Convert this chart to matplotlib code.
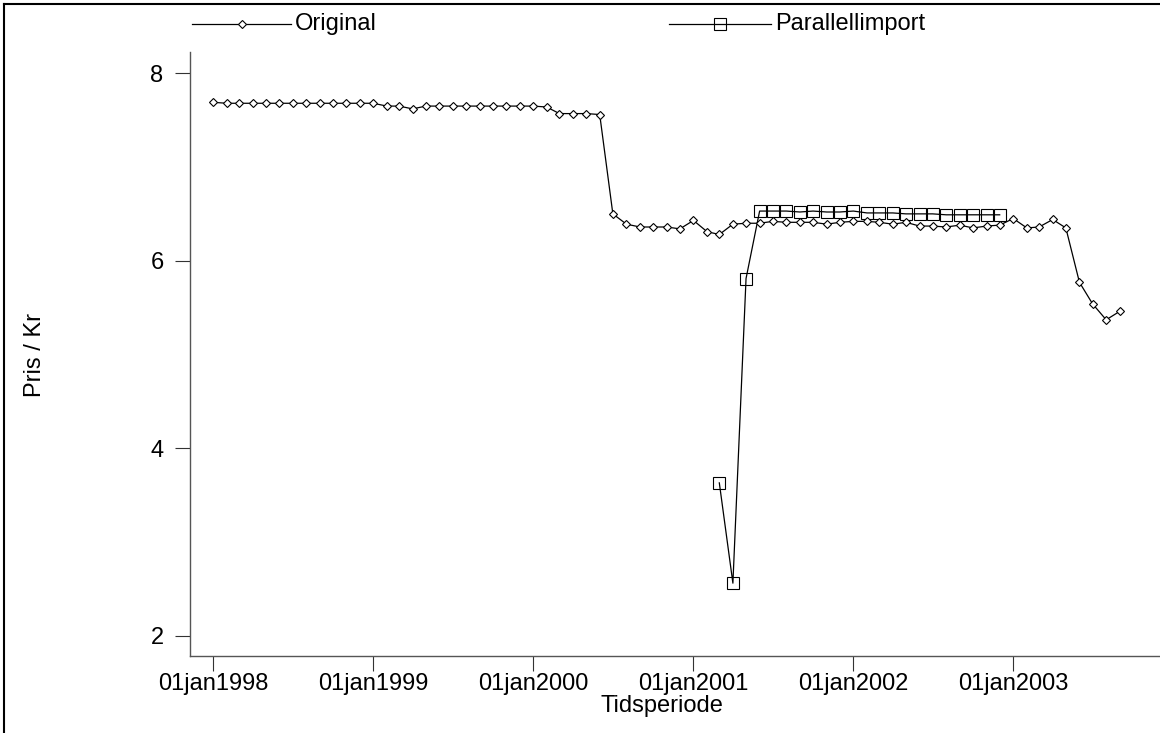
import matplotlib
matplotlib.use("Agg")
import matplotlib.pyplot as plt
import matplotlib.dates as mdates
import pandas as pd
from matplotlib.lines import Line2D

plt.rcParams["font.family"] = ["Liberation Sans", "DejaVu Sans"]

# Monthly price series (Kr), January 1998 - September 2003
months = pd.date_range("1998-01-01", periods=69, freq="MS")
original = [
    7.69, 7.68, 7.68, 7.68, 7.68, 7.68, 7.68, 7.68, 7.68, 7.68, 7.68, 7.68,
    7.68, 7.65, 7.65, 7.62, 7.65, 7.65, 7.65, 7.65, 7.65, 7.65, 7.65, 7.65,
    7.65, 7.64, 7.57, 7.57, 7.57, 7.56, 6.50, 6.39, 6.36, 6.36, 6.36, 6.34,
    6.43, 6.31, 6.28, 6.39, 6.40, 6.40, 6.42, 6.41, 6.41, 6.41, 6.39, 6.41,
    6.42, 6.42, 6.41, 6.39, 6.41, 6.37, 6.37, 6.36, 6.38, 6.35, 6.37, 6.38,
    6.45, 6.35, 6.36, 6.44, 6.35, 5.77, 5.54, 5.37, 5.46,
]

# Parallel import price, March 2001 - December 2002
parallel_months = pd.date_range("2001-03-01", periods=22, freq="MS")
parallel = [
    3.63, 2.56, 5.81, 6.53, 6.53, 6.53, 6.52, 6.53, 6.52, 6.52, 6.53,
    6.51, 6.51, 6.51, 6.50, 6.50, 6.50, 6.49, 6.49, 6.49, 6.49, 6.49,
]

tick_dates = pd.to_datetime(["1998-01-01", "1999-01-01", "2000-01-01",
                             "2001-01-01", "2002-01-01", "2003-01-01"])
tick_labels = ["01jan1998", "01jan1999", "01jan2000",
               "01jan2001", "01jan2002", "01jan2003"]
y_ticks = [2, 4, 6, 8]

W, H = 1160, 733
FS = 17

fig = plt.figure(figsize=(W / 100, H / 100), dpi=100)
AX_TOP, AX_BOTTOM, AX_LEFT = 52, 656, 190
ax = fig.add_axes([AX_LEFT / W, (H - AX_BOTTOM) / H, (W - AX_LEFT) / W,
                   (AX_BOTTOM - AX_TOP) / H])

ax.plot(months, original, color="black", lw=0.9, marker="D", ms=4.4,
        mfc="white", mec="black", mew=0.8, zorder=3)
ax.plot(parallel_months, parallel, color="black", lw=0.9, marker="s", ms=8.5,
        mfc="none", mec="black", mew=0.8, zorder=2)

x0 = mdates.date2num(pd.Timestamp("1998-01-01"))
ax.set_xlim(x0 - 53.2, x0 + 2160.9)
ax.set_ylim(1.783, 8.227)

ax.set_xticks(tick_dates)
ax.set_xticklabels(tick_labels)
ax.set_yticks(y_ticks)
ax.set_yticklabels([str(v) for v in y_ticks])

for side in ("top", "right"):
    ax.spines[side].set_visible(False)
for side in ("left", "bottom"):
    ax.spines[side].set_color("#555555")
    ax.spines[side].set_linewidth(1.0)

ax.tick_params(axis="both", direction="out", width=0.8, color="#333333",
               labelsize=FS)
ax.tick_params(axis="y", length=11, pad=8)
ax.tick_params(axis="x", length=11, pad=1)

ax_h = AX_BOTTOM - AX_TOP
ax_w = W - AX_LEFT
ax.set_xlabel("Tidsperiode", fontsize=FS)
ax.xaxis.label.set_va("center")
ax.xaxis.set_label_coords(0.5 * (596 + 727) / 1 / ax_w - AX_LEFT / ax_w,
                          -(706 - AX_BOTTOM) / ax_h)
ax.set_ylabel("Pris / Kr", fontsize=FS)
ax.yaxis.label.set_va("center")
ax.yaxis.set_label_coords(-(AX_LEFT - 35) / ax_w, (AX_BOTTOM - 355) / ax_h)

# Legend row above the plot area
def legend_key(x_start, x_end, y, marker, ms, mfc):
    xs = [x_start / W, (x_start + x_end) / 2 / W, x_end / W]
    ys = [1 - y / H] * 3
    fig.add_artist(Line2D(xs, ys, transform=fig.transFigure, color="black",
                          lw=0.9, marker=marker, ms=ms, mfc=mfc, mec="black",
                          mew=0.8, markevery=[1]))

legend_key(192, 291, 24, "D", 4.4, "white")
fig.text(295 / W, 1 - 24 / H, "Original", fontsize=FS, ha="left", va="center")
legend_key(669, 771, 24, "s", 8.5, "none")
fig.text(775 / W, 1 - 24 / H, "Parallellimport", fontsize=FS, ha="left", va="center")

# Frame lines along the top and left edges
fig.add_artist(Line2D([3.5 / W, 3.5 / W], [0, 1 - 4 / H], transform=fig.transFigure,
                      color="black", lw=1.5))
fig.add_artist(Line2D([3.5 / W, 1], [1 - 4 / H, 1 - 4 / H], transform=fig.transFigure,
                      color="black", lw=1.5))

fig.savefig("out.png", dpi=100)
